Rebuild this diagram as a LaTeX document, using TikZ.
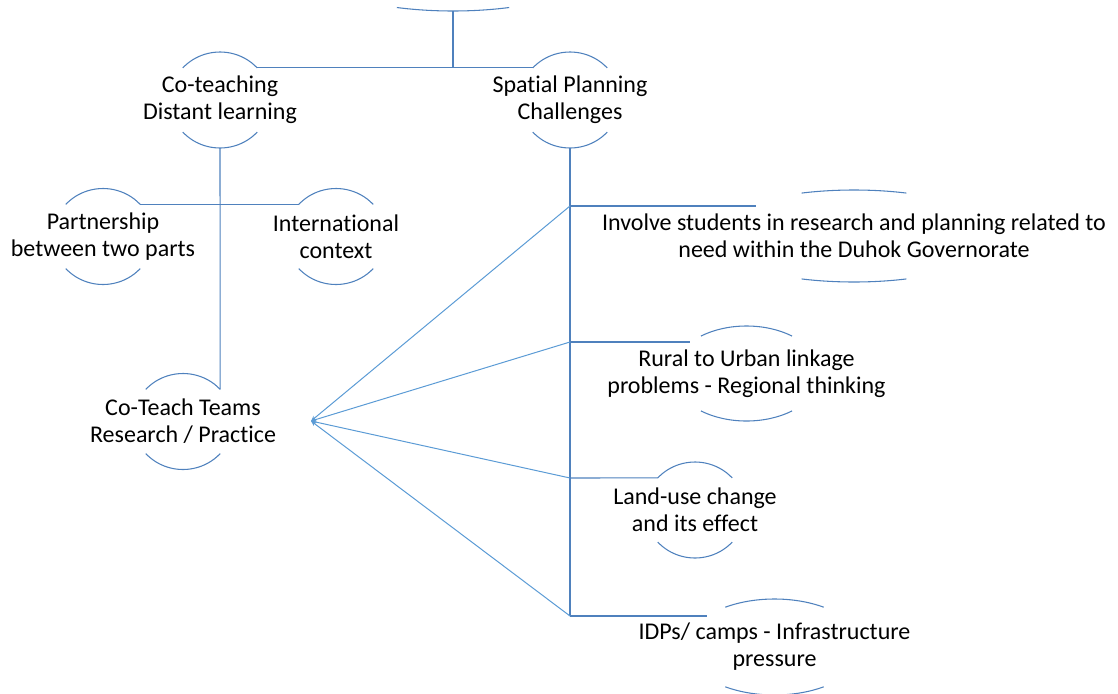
\documentclass[tikz,border=0pt]{standalone}
\usepackage{fontspec}
\setmainfont{Carlito}[Ligatures=NoCommon]
\usepackage{tikz}
\usetikzlibrary{arrows.meta}

\definecolor{linkblue}{HTML}{4F81BD}
\definecolor{fanblue}{HTML}{5B9BD5}

% upper and lower arc of an open oval round a node: name, x radius, y radius, angle
\newcommand{\ovalarcs}[4]{%
    \path (#1.center) ++(180+#4:#2 and #3) coordinate (#1-tl)
          (#1.center) ++(360-#4:#2 and #3) coordinate (#1-tr)
          (#1.center) ++(180-#4:#2 and #3) coordinate (#1-bl)
          (#1.center) ++(#4:#2 and #3) coordinate (#1-br)
          (#1.center) ++(90:#2 and #3) coordinate (#1-b);
    \draw[arcline] (#1-tl) arc[start angle=180+#4, end angle=360-#4, x radius=#2, y radius=#3];
    \draw[arcline] (#1-bl) arc[start angle=180-#4, end angle=#4, x radius=#2, y radius=#3];
}

\begin{document}
\begin{tikzpicture}[x=0.75pt, y=-0.75pt,
        nodetext/.style={align=center, font=\fontsize{18}{20.3}\selectfont, inner sep=0pt},
        arcline/.style={draw=linkblue, line width=0.8pt},
        link/.style={draw=linkblue, line width=0.8pt},
        fan/.style={draw=fanblue, line width=0.75pt, -{Stealth[length=4pt, width=3.5pt]}}]
        \useasboundingbox (0,0) rectangle (1118,693);

        % nodes
        \node (root) at (453,-37) {};
        \node[nodetext] (coteach) at (220,100) {Co-teaching\\Distant learning};
        \node[nodetext] (spatial) at (570,100) {Spatial Planning\\Challenges};
        \node[nodetext] (partner) at (103,236.5) {Partnership\\between two parts};
        \node[nodetext] (intl) at (336,236.5) {International\\context};
        \node[nodetext] (teams) at (183,421.5) {Co-Teach Teams\\Research / Practice};
        \node[nodetext] (involve) at (854,236) {Involve students in research and planning related to\\need within the Duhok Governorate};
        \node[nodetext] (rural) at (746.5,373.5) {Rural to Urban linkage\\problems - Regional thinking};
        \node[nodetext] (landuse) at (695,510) {Land-use change\\and its effect};
        \node[nodetext] (idps) at (774.5,647) {IDPs/ camps - Infrastructure\\pressure};

        % arcs
        \draw[arcline] ([shift={(68:150 and 48)}]root.center) arc[start angle=68, end angle=112, x radius=150, y radius=48];
        \path (root.center) ++(90:150 and 48) coordinate (root-b);
        \ovalarcs{coteach}{50}{48}{42}
        \ovalarcs{spatial}{50}{48}{42}
        \ovalarcs{partner}{50}{48}{42}
        \ovalarcs{intl}{50}{48}{42}
        \ovalarcs{teams}{50}{48}{42}
        \ovalarcs{landuse}{50}{48}{42}
        \ovalarcs{involve}{146}{46}{69}
        \ovalarcs{rural}{74}{47.5}{52}
        \ovalarcs{idps}{88}{48}{56}

        % connector ends
        \coordinate (j1) at (570,206);
        \coordinate (j2) at (570,342);
        \coordinate (j3) at (570,478);
        \coordinate (j4) at (570,616);
        \coordinate (involve-in) at (756,206);
        \coordinate (rural-in) at (690,342);
        \coordinate (idps-in) at (707,616);
        \coordinate (teams-in) at (311,421);

        % tree
        \draw[link] (root-b) -- (root-b |- coteach-tr);
        \draw[link] (coteach-tr) -- (spatial-tl);
        \draw[link] (coteach-b) -- (teams-tr);
        \draw[link] (partner-tr) -- (intl-tl);
        \draw[link] (spatial-b) -- (j4);
        \draw[link] (j1) -- (involve-in);
        \draw[link] (j2) -- (rural-in);
        \draw[link] (j3) -- (landuse-tl);
        \draw[link] (j4) -- (idps-in);

        % fan to the teams
        \draw[fan] (j1) -- (teams-in);
        \draw[fan] (j2) -- (teams-in);
        \draw[fan] (j3) -- (teams-in);
        \draw[fan] (j4) -- (teams-in);
\end{tikzpicture}
\end{document}
